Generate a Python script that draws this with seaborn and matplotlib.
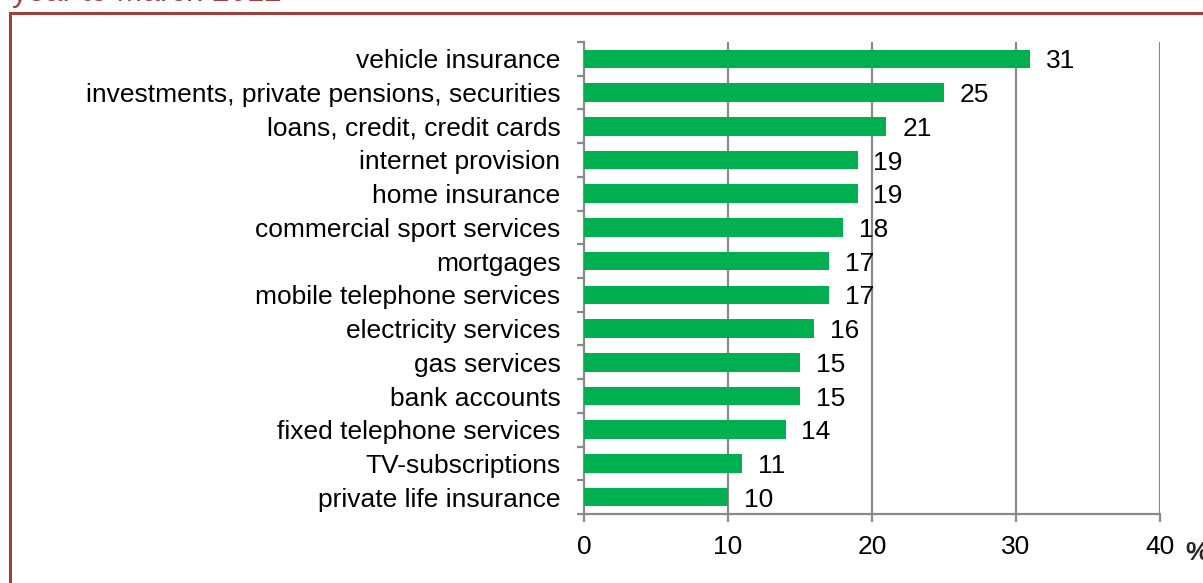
import matplotlib
matplotlib.use("Agg")
import matplotlib.pyplot as plt
from matplotlib.patches import Rectangle
from matplotlib.ticker import FixedLocator
import seaborn as sns
import pandas as pd

categories = [
    "vehicle insurance",
    "investments, private pensions, securities",
    "loans, credit, credit cards",
    "internet provision",
    "home insurance",
    "commercial sport services",
    "mortgages",
    "mobile telephone services",
    "electricity services",
    "gas services",
    "bank accounts",
    "fixed telephone services",
    "TV-subscriptions",
    "private life insurance",
]
values = [31, 25, 21, 19, 19, 18, 17, 17, 16, 15, 15, 14, 11, 10]
x_ticks = [0, 10, 20, 30, 40]
title_text = "year to March 2012"

df = pd.DataFrame({"category": categories, "share": values})

sns.set_theme(style="white")
plt.rcParams["font.family"] = ["Liberation Sans", "DejaVu Sans"]

W, H = 1203, 583
fig = plt.figure(figsize=(W / 100, H / 100), dpi=100)
fig.patch.set_facecolor("white")

# dark red frame around the chart area, running off the right and bottom edges
frame_col = "#A0403C"
fig.patches.append(Rectangle((10 / W, -0.05), 1.2, (1 - 13 / H) + 0.05,
                             transform=fig.transFigure, fill=False,
                             edgecolor=frame_col, linewidth=2.2, zorder=0))
fig.text(12 / W, 1 - 1.5 / H, title_text, color=frame_col, fontsize=22.5,
         ha="left", va="baseline")

ax = fig.add_axes([584 / W, 1 - 514 / H, (1160 - 584) / W, (514 - 42) / H])
grid_col = "#8A8A8A"
fs = 19

sns.barplot(data=df, y="category", x="share", orient="h", color="#00B050",
            saturation=1, width=0.55, linewidth=0, ax=ax, zorder=3)

ax.set_xlim(0, 40)
ax.set_ylim(len(categories) - 0.5, -0.5)
ax.set_xticks(x_ticks)
ax.set_xticklabels([str(t) for t in x_ticks])
ax.set_xlabel("")
ax.set_ylabel("")

for xv in x_ticks[1:]:
    ax.axvline(xv, color=grid_col, linewidth=1.6, zorder=1)

for s in ["top", "right"]:
    ax.spines[s].set_visible(False)
for s in ["left", "bottom"]:
    ax.spines[s].set_color(grid_col)
    ax.spines[s].set_linewidth(1.6)

ax.tick_params(axis="x", direction="out", length=6, width=1.6, color=grid_col,
               labelsize=fs, labelcolor="black", pad=9, bottom=True)
ax.tick_params(axis="y", which="major", length=0, labelsize=fs,
               labelcolor="black", pad=17)
ax.yaxis.set_minor_locator(FixedLocator([i - 0.5 for i in range(len(categories) + 1)]))
ax.tick_params(axis="y", which="minor", direction="out", length=5, width=1.6,
               color=grid_col, left=True)

for i, v in enumerate(values):
    ax.text(v + 1.1, i, str(v), ha="left", va="center_baseline", fontsize=fs,
            color="black", zorder=4)

fig.text(1185 / W, 1 - 560 / H, "%", fontsize=19, fontweight="bold",
         ha="left", va="baseline")

fig.savefig("out.png", dpi=100, facecolor="white")
